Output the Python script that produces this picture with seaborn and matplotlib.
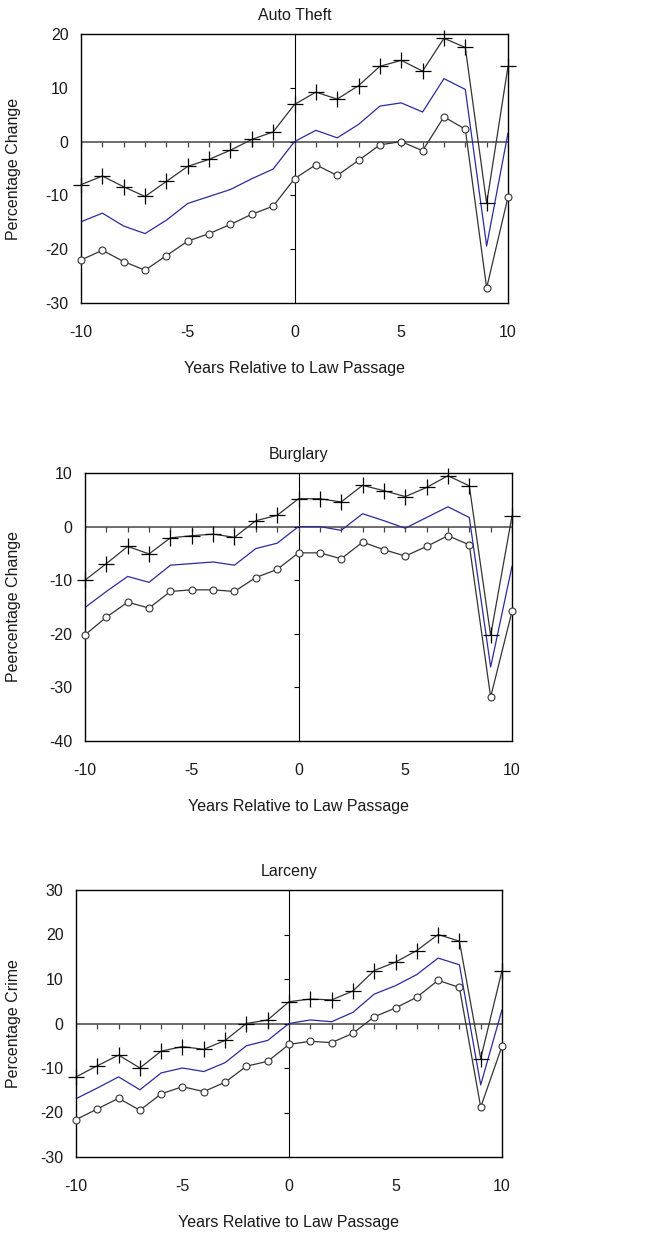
#%% Load libraries
import numpy as np
import pandas as pd
import matplotlib
matplotlib.use("Agg")
import matplotlib.pyplot as plt
import seaborn as sns

#%% Data
years = [-10, -9, -8, -7, -6, -5, -4, -3, -2, -1, 0, 1, 2, 3, 4, 5, 6, 7, 8, 9, 10]

# Auto Theft
auto_upper = [-8.0, -6.4, -8.4, -10.2, -7.4, -4.6, -3.3, -1.6, 0.4, 1.8, 6.9,
              9.2, 7.9, 10.4, 14.0, 15.1, 13.1, 19.2, 17.5, -11.5, 14.0]
auto_est = [-14.9, -13.3, -15.7, -17.1, -14.6, -11.5, -10.2, -8.9, -6.9, -5.1, 0.0,
            2.1, 0.7, 3.2, 6.6, 7.2, 5.5, 11.7, 9.7, -19.4, 1.6]
auto_lower = [-22.0, -20.2, -22.3, -23.9, -21.2, -18.5, -17.1, -15.4, -13.5, -12.0, -6.9,
              -4.3, -6.3, -3.5, -0.6, 0.0, -1.7, 4.6, 2.3, -27.2, -10.3]

# Burglary
burg_upper = [-10.0, -6.9, -3.7, -5.1, -2.1, -1.7, -1.4, -2.0, 1.1, 2.1, 5.2,
              5.2, 4.6, 7.7, 6.7, 5.6, 7.3, 9.5, 7.6, -20.3, 2.0]
burg_est = [-15.1, -12.1, -9.3, -10.4, -7.2, -6.9, -6.6, -7.2, -4.1, -3.1, 0.0,
            0.0, -0.7, 2.4, 1.1, -0.3, 1.7, 3.7, 1.7, -26.2, -7.4]
burg_lower = [-20.2, -16.9, -14.1, -15.2, -12.1, -11.8, -11.8, -12.1, -9.5, -8.0, -4.9,
              -4.9, -6.0, -2.9, -4.3, -5.5, -3.7, -1.7, -3.4, -31.8, -15.8]

# Larceny
larc_upper = [-12.0, -9.5, -7.1, -10.0, -6.2, -5.2, -5.8, -3.8, 0.0, 0.8, 4.9,
              5.5, 5.3, 7.3, 11.9, 13.8, 16.4, 20.0, 18.5, -7.9, 11.9]
larc_est = [-16.9, -14.5, -12.0, -14.9, -11.1, -10.0, -10.8, -8.8, -5.0, -3.8, 0.0,
            0.8, 0.4, 2.5, 6.6, 8.5, 11.0, 14.7, 13.2, -13.8, 3.1]
larc_lower = [-21.6, -19.2, -16.8, -19.5, -15.8, -14.2, -15.3, -13.2, -9.6, -8.5, -4.7,
              -4.0, -4.3, -2.2, 1.5, 3.5, 5.9, 9.7, 8.1, -18.8, -5.1]

titles = ["Auto Theft", "Burglary", "Larceny"]
ylabels = ["Percentage Change", "Peercentage Change", "Percentage Crime"]
ylims = [(-30, 20), (-40, 10), (-30, 30)]
xticks = [-10, -5, 0, 5, 10]

#%% Style
sns.set_style("white")
plt.rcParams['font.family'] = ['Liberation Sans', 'DejaVu Sans']
plt.rcParams['axes.unicode_minus'] = False
plt.rcParams['text.color'] = '#1a1a1a'
plt.rcParams['axes.labelcolor'] = '#1a1a1a'
plt.rcParams['xtick.color'] = '#1a1a1a'
plt.rcParams['ytick.color'] = '#1a1a1a'
fs = 11.5

line_gray = '#333333'
line_blue = '#2b2b9a'

# axes boxes in figure pixels: left, top, right, bottom
W, H = 671, 1239
boxes = [(81, 34, 508, 303), (85, 473, 512, 741), (76, 890, 502, 1157)]

fig = plt.figure(figsize=(W / 100, H / 100), dpi=100)

panels = [
    (auto_upper, auto_est, auto_lower),
    (burg_upper, burg_est, burg_lower),
    (larc_upper, larc_est, larc_lower),
]

for i, (upper, est, lower) in enumerate(panels):
    l, t, r, b = boxes[i]
    ax = fig.add_axes([l / W, 1 - b / H, (r - l) / W, (b - t) / H])

    # zero reference lines with their small inner ticks
    ax.axhline(0, color='#444444', lw=1.1, zorder=1)
    ax.axvline(0, color='black', lw=0.8, zorder=1)

    df = pd.DataFrame({'year': years, 'upper': upper, 'est': est, 'lower': lower})

    sns.lineplot(data=df, x='year', y='upper', ax=ax, color=line_gray, lw=0.9,
                 marker='+', markersize=11.5, markeredgewidth=0.9,
                 markeredgecolor='black', clip_on=False, zorder=3)
    sns.lineplot(data=df, x='year', y='est', ax=ax, color=line_blue, lw=0.9, zorder=2)
    sns.lineplot(data=df, x='year', y='lower', ax=ax, color=line_gray, lw=0.9,
                 marker='o', markersize=5, markerfacecolor='white',
                 markeredgecolor=line_gray, markeredgewidth=0.8,
                 clip_on=False, zorder=3)

    ax.set_xlim(-10, 10)
    ax.set_ylim(*ylims[i])
    ax.set_xticks(xticks)
    yt = np.arange(ylims[i][0], ylims[i][1] + 1, 10)
    ax.set_yticks(yt)

    ax.plot(years, [0] * len(years), linestyle='none', marker=3,
            markersize=3.6, markeredgewidth=0.9, color='#444444', zorder=1)
    ax.plot([0] * len(yt[1:-1]), yt[1:-1], linestyle='none', marker=0,
            markersize=3.6, markeredgewidth=0.8, color='black', zorder=1)

    ax.tick_params(axis='both', length=0, labelsize=fs)
    ax.tick_params(axis='x', pad=16)
    ax.tick_params(axis='y', pad=9)

    for sp in ax.spines.values():
        sp.set_visible(True)
        sp.set_color('black')
        sp.set_linewidth(1.0)

    ax.set_title(titles[i], fontsize=fs, pad=10)
    ax.set_xlabel('Years Relative to Law Passage', fontsize=fs, labelpad=15)
    ax.set_ylabel(ylabels[i], fontsize=fs)
    ax.yaxis.set_label_coords((21 - l) / (r - l), 0.5)

fig.savefig('out.png', dpi=100)
